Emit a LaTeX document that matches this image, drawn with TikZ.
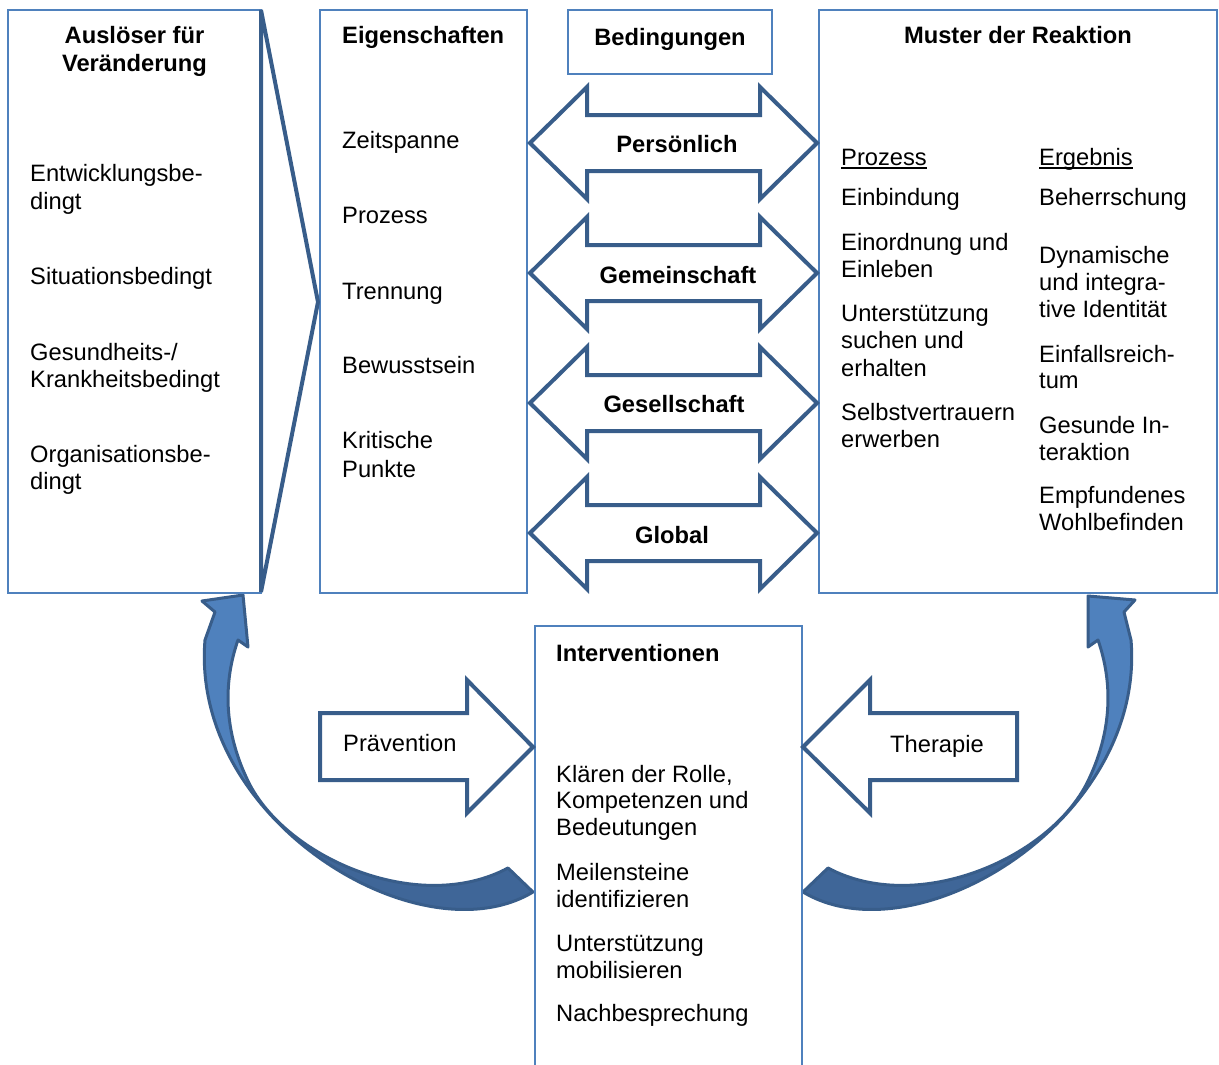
\documentclass[tikz,border=0pt]{standalone}
\usepackage{fontspec}
\setmainfont{Liberation Sans}
\definecolor{boxblue}{HTML}{4F81BD}
\definecolor{darkblue}{HTML}{385D8A}
\definecolor{curvelight}{HTML}{4F81BD}
\definecolor{curvedark}{HTML}{3F6698}
\newcommand\myfs{\fontsize{23.7pt}{27.5pt}\selectfont}
\begin{document}
\begin{tikzpicture}[x=1pt,y=-1pt,
  box/.style={draw=boxblue,line width=1.5pt,inner sep=0pt},
  blockarrow/.style={draw=darkblue,line width=4pt,fill=white,line join=miter},
  txt/.style={anchor=base west,inner sep=0pt,font=\myfs},
  ttl/.style={anchor=base,inner sep=0pt,font=\myfs\bfseries},
  ttll/.style={anchor=base west,inner sep=0pt,font=\myfs\bfseries},
  curveline/.style={draw=darkblue,line width=3pt,line join=round}]
\useasboundingbox (0,0) rectangle (1219,1065);
\clip (0,0) rectangle (1219,1065);

% curved arrows
\def\lcurve{(533,892) .. controls (420,960) and (190,820) .. (205,640) -- (215,612) -- (202,601) -- (243,595) -- (248,647) -- (238,640) .. controls (224,680) and (222,730) .. (250,785) .. controls (290,860) and (420,915) .. (508,868) -- cycle}
\def\rcurve{(803,892) .. controls (916,960) and (1146,820) .. (1131,640) -- (1124,612) -- (1135,600) -- (1088,596) -- (1088,647) -- (1098,640) .. controls (1112,680) and (1114,730) .. (1086,785) .. controls (1046,860) and (916,915) .. (828,868) -- cycle}
\fill[curvelight] \lcurve;
\begin{scope}
  \clip (340,763) -- (600,763) -- (600,960) -- (143,960) -- cycle;
  \fill[curvedark] \lcurve;
\end{scope}
\draw[curveline] \lcurve;
\fill[curvelight] \rcurve;
\begin{scope}
  \clip (965,758) -- (1125,918) -- (1125,960) -- (760,960) -- (760,758) -- cycle;
  \fill[curvedark] \rcurve;
\end{scope}
\draw[curveline] \rcurve;

% boxes
\node[box,minimum width=253pt,minimum height=583pt] (ausl) at (134.5,301.5) {};
\node[box,minimum width=207pt,minimum height=583pt] (eig) at (423.5,301.5) {};
\node[box,minimum width=204pt,minimum height=64pt] (bed) at (670,42) {};
\node[box,minimum width=398pt,minimum height=583pt] (must) at (1018,301.5) {};
\node[box,minimum width=267pt,minimum height=454pt] (intv) at (668.5,853) {};

% triangle
\draw[darkblue,line width=4pt,line join=miter] (261,10) -- (318,302) -- (261,592) -- cycle;

% double arrows
\foreach \c/\nm in {143/pa,273/ga,403/gsa,533/gla}{
  \draw[blockarrow] (530,\c) -- (587,\c-56) -- (587,\c-28) -- (760,\c-28) -- (760,\c-56)
    -- (817,\c) -- (760,\c+56) -- (760,\c+28) -- (587,\c+28) -- (587,\c+56) -- cycle;
}
\node[ttl] (lpers) at (677,152) {Persönlich};
\node[ttl] (lgem) at (678,283) {Gemeinschaft};
\node[ttl] (lges) at (674,412) {Gesellschaft};
\node[ttl] (lglob) at (672,543) {Global};

% Prävention / Therapie
\draw[blockarrow] (320,713) -- (467,713) -- (467,680) -- (533,747) -- (467,813) -- (467,780) -- (320,780) -- cycle;
\node[txt] (lpraev) at (343,751) {Prävention};
\draw[blockarrow] (803,747) -- (870,680) -- (870,713) -- (1017,713) -- (1017,780) -- (870,780) -- (870,813) -- cycle;
\node[txt] (lther) at (890,752) {Therapie};

% box 1
\node[ttl] (t1a) at (134.5,44) {Auslöser für};
\node[ttl] (t1b) at (134.5,72) {Veränderung};
\node[txt] (a1) at (30,181) {Entwicklungsbe-};
\node[txt] (a1b) at (30,209) {dingt};
\node[txt] (a2) at (30,284) {Situationsbedingt};
\node[txt] (a3) at (30,360) {Gesundheits-/};
\node[txt] (a3b) at (30,387) {Krankheitsbedingt};
\node[txt] (a4) at (30,462) {Organisationsbe-};
\node[txt] (a4b) at (30,489) {dingt};

% box 2
\node[ttll] (t2) at (342,44) {Eigenschaften};
\node[txt] (e1) at (342,148) {Zeitspanne};
\node[txt] (e2) at (342,223) {Prozess};
\node[txt] (e3) at (342,299) {Trennung};
\node[txt] (e4) at (342,373) {Bewusstsein};
\node[txt] (e5) at (342,448) {Kritische};
\node[txt] (e5b) at (342,477) {Punkte};

% Bedingungen
\node[ttl] (t3) at (670,46) {Bedingungen};

% Muster der Reaktion
\node[ttl] (t4) at (1018,44) {Muster der Reaktion};
\node[txt] (mp) at (841,165) {Prozess};
\node[txt] (me) at (1039,165) {Ergebnis};
\draw[line width=1.4pt] ([yshift=-3pt]mp.base west) -- ([yshift=-3pt]mp.base east);
\draw[line width=1.4pt] ([yshift=-3pt]me.base west) -- ([yshift=-3pt]me.base east);
\node[txt] (p1) at (841,205) {Einbindung};
\node[txt] (p2) at (841,250) {Einordnung und};
\node[txt] (p2b) at (841,277) {Einleben};
\node[txt] (p3) at (841,321) {Unterstützung};
\node[txt] (p3b) at (841,348) {suchen und};
\node[txt] (p3c) at (841,376) {erhalten};
\node[txt] (p4) at (841,420) {Selbstvertrauern};
\node[txt] (p4b) at (841,447) {erwerben};
\node[txt] (r1) at (1039,205) {Beherrschung};
\node[txt] (r2) at (1039,263) {Dynamische};
\node[txt] (r2b) at (1039,290) {und integra-};
\node[txt] (r2c) at (1039,317) {tive Identität};
\node[txt] (r3) at (1039,362) {Einfallsreich-};
\node[txt] (r3b) at (1039,388) {tum};
\node[txt] (r4) at (1039,433) {Gesunde In-};
\node[txt] (r4b) at (1039,460) {teraktion};
\node[txt] (r5) at (1039,503) {Empfundenes};
\node[txt] (r5b) at (1039,530) {Wohlbefinden};

% Interventionen
\node[ttll] (t5) at (556,661) {Interventionen};
\node[txt] (i1) at (556,782) {Klären der Rolle,};
\node[txt] (i1b) at (556,808) {Kompetenzen und};
\node[txt] (i1c) at (556,835) {Bedeutungen};
\node[txt] (i2) at (556,880) {Meilensteine};
\node[txt] (i2b) at (556,907) {identifizieren};
\node[txt] (i3) at (556,951) {Unterstützung};
\node[txt] (i3b) at (556,978) {mobilisieren};
\node[txt] (i4) at (556,1021) {Nachbesprechung};
\end{tikzpicture}
\end{document}
